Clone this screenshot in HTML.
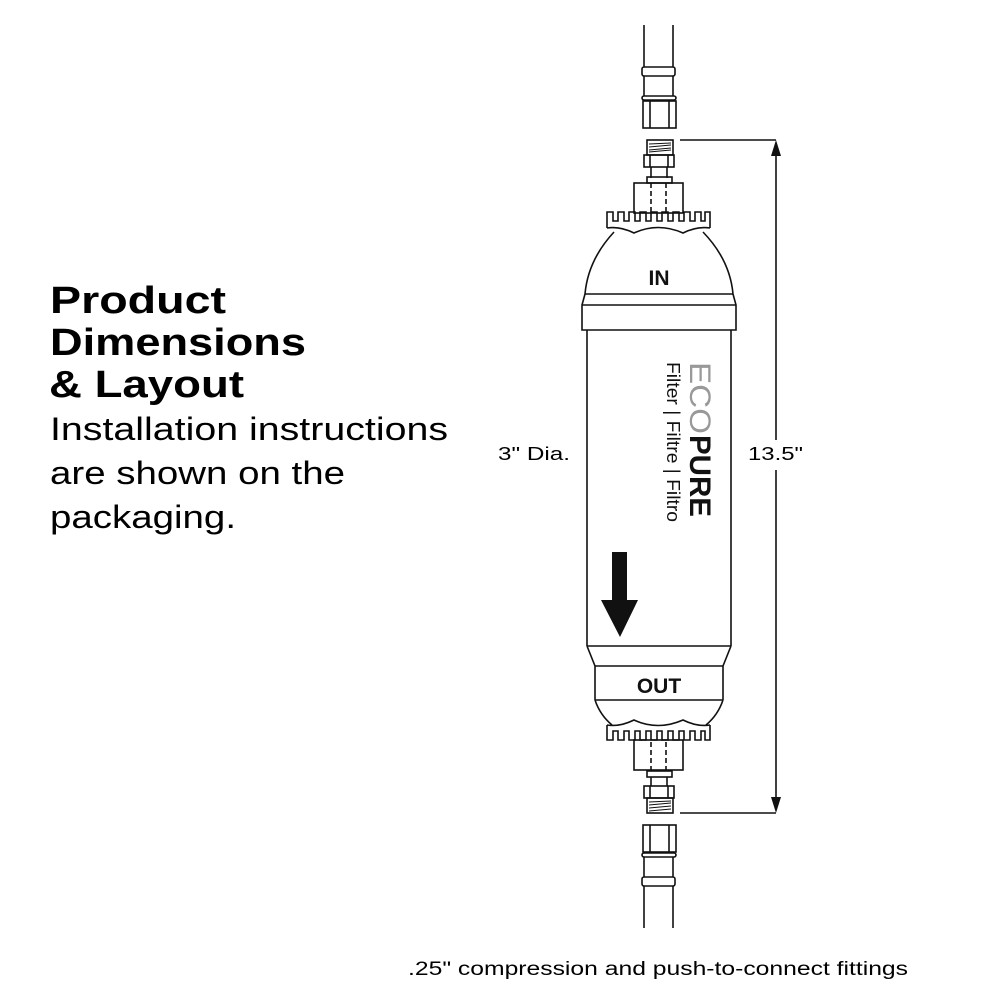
<!DOCTYPE html>
<html><head><meta charset="utf-8"><style>
html,body{margin:0;padding:0;background:#fff;}
svg{display:block;}
text{font-family:"Liberation Sans",sans-serif;}
</style></head><body>
<svg width="1000" height="1000" viewBox="0 0 1000 1000" xmlns="http://www.w3.org/2000/svg">
<rect width="1000" height="1000" fill="#fff"/>
<!-- left text -->
<g fill="#000">
<text x="50" y="313" font-size="38" font-weight="bold" textLength="176" lengthAdjust="spacingAndGlyphs">Product</text>
<text x="50" y="355" font-size="38" font-weight="bold" textLength="256" lengthAdjust="spacingAndGlyphs">Dimensions</text>
<text x="49" y="397" font-size="38" font-weight="bold" textLength="195" lengthAdjust="spacingAndGlyphs">&amp; Layout</text>
<text x="50" y="440" font-size="32" textLength="398" lengthAdjust="spacingAndGlyphs">Installation instructions</text>
<text x="50" y="484" font-size="32" textLength="295" lengthAdjust="spacingAndGlyphs">are shown on the</text>
<text x="50" y="528" font-size="32" textLength="186" lengthAdjust="spacingAndGlyphs">packaging.</text>
<text x="498" y="460" font-size="18" textLength="72" lengthAdjust="spacingAndGlyphs">3" Dia.</text>
<text x="408" y="975" font-size="19" textLength="500" lengthAdjust="spacingAndGlyphs">.25" compression and push-to-connect fittings</text>
</g>
<g fill="none" stroke="#111" stroke-width="1.6">
<!-- dimension -->
<line x1="680" y1="140" x2="776" y2="140"/>
<line x1="680" y1="813" x2="776" y2="813"/>
<line x1="776" y1="150" x2="776" y2="440"/>
<line x1="776" y1="470" x2="776" y2="803"/>
<!-- top pipe -->
<line x1="644" y1="25" x2="644" y2="67"/><line x1="673" y1="25" x2="673" y2="67"/>
<rect x="642" y="67" width="33" height="9" rx="2"/>
<line x1="644" y1="76" x2="644" y2="96"/><line x1="673" y1="76" x2="673" y2="96"/>
<rect x="642" y="96" width="34" height="4" rx="2"/>
<rect x="643" y="101" width="33" height="27"/>
<line x1="650" y1="101" x2="650" y2="128"/><line x1="669" y1="101" x2="669" y2="128"/>
<!-- top thread -->
<rect x="647" y="140" width="26" height="15"/>
<path d="M649 144 L671 143 M649 147 L671 145 M649 150 L671 148 M649 152 L671 150" stroke-width="1"/>
<rect x="644" y="155" width="30" height="12"/>
<line x1="650" y1="155" x2="650" y2="167"/><line x1="668" y1="155" x2="668" y2="167"/>
<line x1="651" y1="167" x2="651" y2="178"/><line x1="667" y1="167" x2="667" y2="178"/>
<rect x="647" y="177" width="25" height="6"/>
<rect x="634" y="183" width="49" height="30"/>
<line x1="651" y1="183" x2="651" y2="213" stroke-dasharray="5,3"/>
<line x1="666" y1="183" x2="666" y2="213" stroke-dasharray="5,3"/>
<!-- top crenellation -->
<path d="M607 228 V212 H613 V221 H618 V212 H624 V221 H629 V212 H635 V221 H640 V212 H646 V221 H651 V212 H657 V221 H662 V212 H668 V221 H673 V212 H679 V221 H684 V212 H690 V221 H695 V212 H701 V221 H705 V212 H710 V228"/>
<path d="M607 228 Q620 226 634 233 Q658 222 683 233 Q697 226 710 228"/>
<!-- top dome & band -->
<path d="M614 232 Q588 260 585 294 M703 232 Q730 260 733 294"/>
<line x1="585" y1="294" x2="733" y2="294"/>
<path d="M585 294 L582 305 V330 H736 V305 L733 294"/>
<line x1="582" y1="305" x2="736" y2="305"/>
<!-- body -->
<line x1="587" y1="330" x2="587" y2="646"/><line x1="731" y1="330" x2="731" y2="646"/>
<line x1="587" y1="646" x2="731" y2="646"/>
<path d="M587 646 L595 666 V700 M731 646 L723 666 V700"/>
<line x1="595" y1="666" x2="723" y2="666"/>
<line x1="595" y1="700" x2="723" y2="700"/>
<path d="M595 700 Q600 715 612 725 M723 700 Q718 715 706 725"/>
<!-- bottom crenellation -->
<path d="M607 725 Q620 727 634 720 Q658 731 683 720 Q697 727 710 725"/>
<path d="M607 725 V740 H613 V731 H618 V740 H624 V731 H629 V740 H635 V731 H640 V740 H646 V731 H651 V740 H657 V731 H662 V740 H668 V731 H673 V740 H679 V731 H684 V740 H690 V731 H695 V740 H701 V731 H705 V740 H710 V725"/>
<rect x="634" y="740" width="49" height="30"/>
<line x1="651" y1="742" x2="651" y2="770" stroke-dasharray="5,3"/>
<line x1="666" y1="742" x2="666" y2="770" stroke-dasharray="5,3"/>
<rect x="647" y="771" width="25" height="6"/>
<line x1="651" y1="777" x2="651" y2="786"/><line x1="667" y1="777" x2="667" y2="786"/>
<rect x="644" y="786" width="30" height="12"/>
<line x1="650" y1="786" x2="650" y2="798"/><line x1="668" y1="786" x2="668" y2="798"/>
<rect x="647" y="798" width="26" height="15"/>
<path d="M649 802 L671 801 M649 805 L671 803 M649 808 L671 806 M649 811 L671 809" stroke-width="1"/>
<!-- bottom pipe -->
<rect x="643" y="825" width="33" height="27"/>
<line x1="650" y1="825" x2="650" y2="852"/><line x1="669" y1="825" x2="669" y2="852"/>
<rect x="642" y="853" width="34" height="4" rx="2"/>
<line x1="644" y1="857" x2="644" y2="877"/><line x1="673" y1="857" x2="673" y2="877"/>
<rect x="642" y="877" width="33" height="9" rx="2"/>
<line x1="644" y1="886" x2="644" y2="928"/><line x1="673" y1="886" x2="673" y2="928"/>
</g>
<!-- arrowheads -->
<path d="M776 140 L771 156 L781 156 Z" fill="#111"/>
<path d="M776 813 L771 797 L781 797 Z" fill="#111"/>
<text x="748" y="460" font-size="18" fill="#000" textLength="55" lengthAdjust="spacingAndGlyphs">13.5"</text>
<!-- labels -->
<text x="659" y="285" font-size="21" font-weight="bold" fill="#111" text-anchor="middle">IN</text>
<text x="659" y="693" font-size="21" font-weight="bold" fill="#111" text-anchor="middle">OUT</text>
<!-- flow arrow -->
<path d="M612 552 H627 V600 H638 L620 637 L601 600 H612 Z" fill="#111"/>
<!-- brand -->
<g transform="translate(690,362) rotate(90)">
<text x="0" y="0" font-size="30" fill="#999" textLength="72" lengthAdjust="spacingAndGlyphs">ECO</text>
<text x="73" y="0" font-size="30" font-weight="bold" fill="#111" textLength="82" lengthAdjust="spacingAndGlyphs">PURE</text>
</g>
<g transform="translate(667,362) rotate(90)">
<text x="0" y="0" font-size="18" fill="#111" textLength="160" lengthAdjust="spacingAndGlyphs">Filter | Filtre | Filtro</text>
</g>
</svg>
</body></html>
